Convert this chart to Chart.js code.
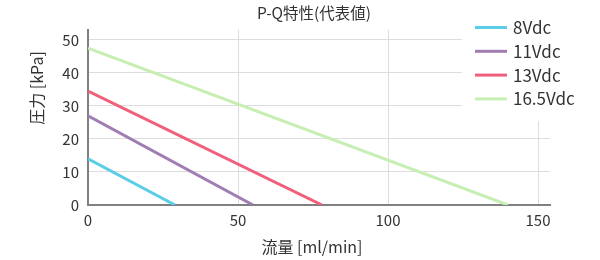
<!DOCTYPE html>
<html lang="ja">
<head>
<meta charset="utf-8">
<title>P-Q特性</title>
<script src="https://cdn.jsdelivr.net/npm/chart.js@4.4.1/dist/chart.umd.min.js"></script>
<style>
  html, body { margin: 0; padding: 0; background: #fff; }
  #wrap { width: 600px; height: 260px; }
</style>
</head>
<body>
<div id="wrap"><canvas id="pqChart"></canvas></div>
<script>
const chartTitle = "P-Q特性(代表値)";
const xTitle = "流量 [ml/min]";
const yTitle = "圧力 [kPa]";

const seriesLabels = ["8Vdc", "11Vdc", "13Vdc", "16.5Vdc"];
const seriesColors = ["#5ccde8", "#a07db2", "#f0607a", "#c7eeb3"];

// flow [ml/min] / pressure [kPa] at both ends of each line
const flow8 = [0, 29];
const press8 = [14, 0];
const flow11 = [0, 55];
const press11 = [27, 0];
const flow13 = [0, 78];
const press13 = [34.5, 0];
const flow165 = [0, 140];
const press165 = [47.5, 0];

const xTicks = [0, 50, 100, 150];
const yTicks = [0, 10, 20, 30, 40, 50];

const FONT = "'Noto Sans CJK JP', 'Noto Sans', sans-serif";
Chart.defaults.font.family = FONT;

function toPoints(xs, ys) {
  return xs.map((x, i) => ({ x: x, y: ys[i] }));
}

const flows = [flow8, flow11, flow13, flow165];
const pressures = [press8, press11, press13, press165];

const datasets = seriesLabels.map((label, i) => ({
  label: label,
  data: toPoints(flows[i], pressures[i]),
  borderColor: seriesColors[i],
  backgroundColor: seriesColors[i],
  borderWidth: 3,
  pointRadius: 0,
  tension: 0,
  fill: false
}));

// title, axis titles and the legend box that sits over the plot
const decorPlugin = {
  id: "decor",
  afterDraw(chart) {
    const ctx = chart.ctx;
    ctx.save();
    ctx.fillStyle = "#333";
    ctx.textBaseline = "middle";
    ctx.textAlign = "center";

    ctx.font = "15.5px " + FONT;
    ctx.fillText(chartTitle, 314, 13);

    ctx.font = "16px " + FONT;
    ctx.fillText(xTitle, 312, 247);

    ctx.save();
    ctx.translate(37, 88);
    ctx.rotate(-Math.PI / 2);
    ctx.fillText(yTitle, 0, 0);
    ctx.restore();

    ctx.fillStyle = "#fff";
    ctx.fillRect(462, 0, 138, 121);

    ctx.font = "17px " + FONT;
    ctx.textAlign = "left";
    chart.data.datasets.forEach((ds, i) => {
      const y = 27.5 + i * 23.8;
      ctx.strokeStyle = ds.borderColor;
      ctx.lineWidth = 3;
      ctx.beginPath();
      ctx.moveTo(475, y);
      ctx.lineTo(507, y);
      ctx.stroke();
      ctx.fillStyle = "#333";
      ctx.fillText(ds.label, 513, y);
    });
    ctx.restore();
  }
};

new Chart(document.getElementById("pqChart"), {
  type: "line",
  data: { datasets: datasets },
  options: {
    responsive: true,
    maintainAspectRatio: false,
    animation: false,
    layout: { padding: { top: 30, right: 50, bottom: 0, left: 0 } },
    plugins: {
      legend: { display: false },
      title: { display: false },
      tooltip: { enabled: false }
    },
    scales: {
      x: {
        type: "linear",
        min: 0,
        max: 154,
        afterBuildTicks: s => { s.ticks = xTicks.map(v => ({ value: v })); },
        afterFit: s => { s.height = 55; },
        ticks: { font: { size: 15 }, color: "#333", padding: 6, maxRotation: 0 },
        grid: { color: "#dddddd", drawTicks: false },
        border: { color: "#808080", width: 2 }
      },
      y: {
        min: 0,
        max: 53,
        afterBuildTicks: s => { s.ticks = yTicks.map(v => ({ value: v })); },
        afterFit: s => { s.width = 88; },
        ticks: { font: { size: 15 }, color: "#333", padding: 9 },
        grid: { color: "#dddddd", drawTicks: false },
        border: { color: "#808080", width: 2 }
      }
    }
  },
  plugins: [decorPlugin]
});
</script>
</body>
</html>
